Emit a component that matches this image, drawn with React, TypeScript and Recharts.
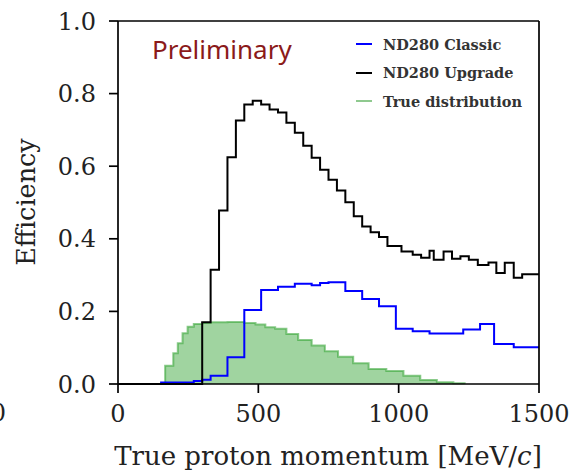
import { ComposedChart, Line, Area, XAxis, YAxis, ReferenceLine, Label } from 'recharts'

document.body.style.margin = '0'

// bin edges (MeV/c) and bin contents
const classicEdges = [150, 270, 300, 330, 390, 450, 510, 570, 630, 690, 720, 750, 810, 870, 930, 990, 1050, 1110, 1230, 1290, 1340, 1410, 1500]
const classicValues = [0.004, 0.008, 0.012, 0.023, 0.074, 0.204, 0.259, 0.268, 0.276, 0.272, 0.278, 0.28, 0.256, 0.234, 0.214, 0.152, 0.145, 0.139, 0.15, 0.165, 0.11, 0.101]

const upgradeEdges = [0, 300, 330, 360, 390, 420, 450, 480, 510, 540, 570, 600, 630, 660, 690, 720, 750, 780, 810, 840, 870, 900, 930, 960, 1010, 1050, 1080, 1110, 1125, 1160, 1190, 1220, 1250, 1282, 1320, 1348, 1378, 1410, 1440, 1500]
const upgradeValues = [0, 0.17, 0.315, 0.478, 0.625, 0.726, 0.77, 0.78, 0.77, 0.756, 0.748, 0.72, 0.692, 0.656, 0.623, 0.59, 0.563, 0.533, 0.501, 0.462, 0.434, 0.418, 0.405, 0.38, 0.365, 0.356, 0.348, 0.367, 0.342, 0.365, 0.345, 0.352, 0.342, 0.328, 0.335, 0.306, 0.334, 0.293, 0.302]

const trueEdges = [168, 197, 213, 230, 248, 270, 300, 330, 390, 450, 490, 525, 560, 600, 642, 690, 737, 784, 838, 893, 956, 1017, 1077, 1136, 1195, 1235]
const trueValues = [0.05, 0.085, 0.112, 0.14, 0.158, 0.165, 0.168, 0.17, 0.171, 0.168, 0.164, 0.156, 0.152, 0.138, 0.121, 0.106, 0.09, 0.075, 0.057, 0.041, 0.036, 0.023, 0.011, 0.005, 0.002]

const xTicks = [0, 500, 1000, 1500]
const yTicks = [0, 0.2, 0.4, 0.6, 0.8, 1.0]

function steps(edges: number[], values: number[]) {
  const pts = values.map((v, i) => ({ x: edges[i], y: v }))
  pts.push({ x: edges[edges.length - 1], y: values[values.length - 1] })
  return pts
}

const classicData = steps(classicEdges, classicValues)
const upgradeData = steps(upgradeEdges, upgradeValues)
const trueData = [
  { x: trueEdges[0], y: 0 },
  ...steps(trueEdges, trueValues),
  { x: trueEdges[trueEdges.length - 1], y: 0 },
]

const SERIF = '"DejaVu Serif", serif'

const legendItems = [
  { name: 'ND280 Classic', color: '#0000ff' },
  { name: 'ND280 Upgrade', color: '#000000' },
  { name: 'True distribution', color: '#8fc98f' },
]

export default function App() {
  return (
    <div style={{ position: 'relative', width: 575, height: 474, background: '#fff', overflow: 'hidden' }}>
      <ComposedChart width={575} height={474} margin={{ top: 21, right: 36, bottom: 0, left: 0 }}>
        <XAxis
          type="number"
          dataKey="x"
          domain={[0, 1500]}
          ticks={xTicks}
          allowDataOverflow
          height={90}
          tickSize={9}
          tickMargin={12}
          stroke="#000"
          strokeWidth={1.7}
          tick={{ fill: '#222', fontSize: 24, fontFamily: SERIF }}
        >
          <Label
            content={() => (
              <g>
                <text x={328} y={465} textAnchor="middle" fontFamily={SERIF} fontSize={26} fill="#222">
                  True proton momentum [MeV/<tspan fontStyle="italic">c</tspan>]
                </text>
                <text x={6} y={421} textAnchor="end" fontFamily={SERIF} fontSize={24} fill="#222">0</text>
              </g>
            )}
          />
        </XAxis>
        <YAxis
          type="number"
          domain={[0, 1]}
          ticks={yTicks}
          width={118}
          tickSize={9}
          tickMargin={13}
          stroke="#000"
          strokeWidth={1.7}
          tickFormatter={(v: number) => v.toFixed(1)}
          tick={{ fill: '#222', fontSize: 24, fontFamily: SERIF }}
        >
          <Label
            content={() => (
              <text x={35} y={202} transform="rotate(-90 35 202)" textAnchor="middle" fontFamily={SERIF} fontSize={25.5} fill="#222">
                Efficiency
              </text>
            )}
          />
        </YAxis>
        <Area
          data={trueData}
          dataKey="y"
          type="stepAfter"
          fill="#2ca02c"
          fillOpacity={0.45}
          stroke="#2ca02c"
          strokeOpacity={0.55}
          strokeWidth={2}
          dot={false}
          activeDot={false}
          isAnimationActive={false}
        />
        <Line data={classicData} dataKey="y" type="stepAfter" stroke="#0000ff" strokeWidth={2} dot={false} activeDot={false} isAnimationActive={false} />
        <Line data={upgradeData} dataKey="y" type="stepAfter" stroke="#000" strokeWidth={2} dot={false} activeDot={false} isAnimationActive={false} />
        <ReferenceLine y={1} stroke="#000" strokeWidth={1.7} />
        <ReferenceLine x={1500} stroke="#000" strokeWidth={1.7} />
      </ComposedChart>
      <div style={{ position: 'absolute', left: 152, top: 33, fontFamily: '"Noto Sans", sans-serif', fontSize: 26, lineHeight: '32px', color: '#8b1a1a' }}>
        Preliminary
      </div>
      <div style={{ position: 'absolute', left: 356, top: 30 }}>
        {legendItems.map((it) => (
          <div key={it.name} style={{ display: 'flex', alignItems: 'center', height: 28.5 }}>
            <div style={{ width: 16, height: 2, background: it.color, marginRight: 11 }} />
            <span style={{ fontFamily: SERIF, fontWeight: 'bold', fontSize: 14.5, color: '#333' }}>{it.name}</span>
          </div>
        ))}
      </div>
    </div>
  )
}
